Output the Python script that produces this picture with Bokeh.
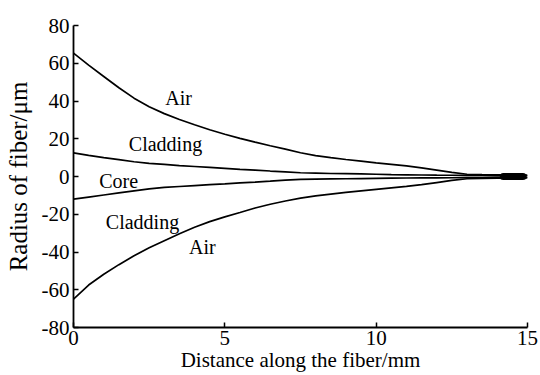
from bokeh.plotting import figure
from bokeh.models import Range1d, FixedTicker, ColumnDataSource
from bokeh.core.properties import value
from bokeh.embed import file_html
from bokeh.resources import INLINE

# Fiber taper profile: radius (um) vs distance along the fiber (mm)
distance = [0, 0.5, 1, 1.5, 2, 2.5, 3, 3.5, 4, 4.5, 5, 5.5, 6, 6.5, 7, 7.5,
            8, 8.5, 9, 9.5, 10, 10.5, 11, 11.5, 12, 12.5, 13, 13.5, 14, 14.5, 15]
air_upper = [65.4, 59.0, 53.0, 47.0, 41.5, 37.0, 33.3, 30.2, 27.4, 24.8, 22.4, 20.2, 18.2, 16.3, 14.5, 12.6,
             11.1, 10.0, 9.0, 8.1, 7.2, 6.4, 5.6, 4.6, 3.4, 2.2, 1.2, 1.0, 0.9, 0.8, 0.7]
air_lower = [-65.0, -57.5, -51.8, -46.7, -42.0, -37.8, -34.0, -30.3, -26.9, -23.9, -21.4, -19.1, -16.7, -14.7, -13.0, -11.5,
             -10.3, -9.3, -8.4, -7.6, -6.8, -6.0, -5.2, -4.3, -3.2, -2.1, -1.2, -1.0, -0.9, -0.8, -0.7]
core_upper = [12.5, 11.2, 10.0, 8.9, 7.8, 7.0, 6.4, 5.8, 5.3, 4.8, 4.3, 3.8, 3.4, 2.9, 2.5, 2.0,
              1.8, 1.6, 1.5, 1.35, 1.2, 1.0, 0.9, 0.8, 0.7, 0.65, 0.6, 0.55, 0.5, 0.45, 0.4]
core_lower = [-12.0, -10.9, -9.8, -8.7, -7.6, -6.6, -5.8, -5.3, -4.8, -4.3, -3.9, -3.4, -3.0, -2.5, -1.9, -1.5,
              -1.4, -1.3, -1.2, -1.1, -1.0, -0.9, -0.8, -0.75, -0.7, -0.65, -0.6, -0.55, -0.5, -0.45, -0.4]

# fused tip at the end of the taper
tip_x = [14.2, 14.85]
tip_y = [0, 0]

# region labels
label_text = ["Air", "Cladding", "Core", "Cladding", "Air"]
label_x = [3.47, 3.04, 1.49, 2.28, 4.26]
label_y = [41.6, 17.2, -2.4, -24.0, -37.3]

x_ticks = [0, 5, 10, 15]
x_tick_labels = ["0", "5", "10", "15"]
y_ticks = [-80, -60, -40, -20, 0, 20, 40, 60, 80]
y_tick_labels = ["-80", "-60", "-40", "-20", "0", "20", "40", "60", "80"]

FONT = "'Liberation Serif', serif"

p = figure(width=540, height=375, output_backend="svg", toolbar_location=None,
           x_range=Range1d(0, 15), y_range=Range1d(-80, 80),
           min_border_left=73, min_border_right=13, min_border_top=25, min_border_bottom=48)
p.outline_line_color = None
p.grid.visible = False
p.background_fill_color = "white"
p.border_fill_color = "white"

for ys in (air_upper, air_lower, core_upper, core_lower):
    p.line(distance, ys, line_color="black", line_width=1.7)

p.line(tip_x, tip_y, line_color="black", line_width=7, line_cap="round")

src = ColumnDataSource(dict(x=label_x, y=label_y, t=label_text))
p.text(x="x", y="y", text="t", source=src, text_font=value(FONT),
       text_font_size="20px", text_align="center", text_baseline="middle",
       text_color="black")

for ax in (p.xaxis[0], p.yaxis[0]):
    ax.axis_line_color = "black"
    ax.axis_line_width = 1.8
    ax.major_tick_line_color = "black"
    ax.major_tick_line_width = 1.5
    ax.major_tick_in = 5
    ax.major_tick_out = 0
    ax.minor_tick_line_color = None
    ax.major_label_text_font = FONT
    ax.major_label_text_font_size = "21px"
    ax.major_label_text_color = "black"
    ax.axis_label_text_font = FONT
    ax.axis_label_text_font_style = "normal"
    ax.axis_label_text_color = "black"

p.xaxis.ticker = FixedTicker(ticks=x_ticks)
p.xaxis.major_label_overrides = dict(zip(x_ticks, x_tick_labels))
p.yaxis.ticker = FixedTicker(ticks=y_ticks)
p.yaxis.major_label_overrides = dict(zip(y_ticks, y_tick_labels))

p.xaxis.axis_label = "Distance along the fiber/mm"
p.xaxis.axis_label_text_font_size = "21px"
p.xaxis.major_label_standoff = 3
p.xaxis.axis_label_standoff = 0

p.yaxis.axis_label = "Radius of fiber/\u03bcm"
p.yaxis.axis_label_text_font_size = "25px"
p.yaxis.major_label_standoff = 4
p.yaxis.axis_label_standoff = 7

open("out.html", "w").write(file_html(p, INLINE))
